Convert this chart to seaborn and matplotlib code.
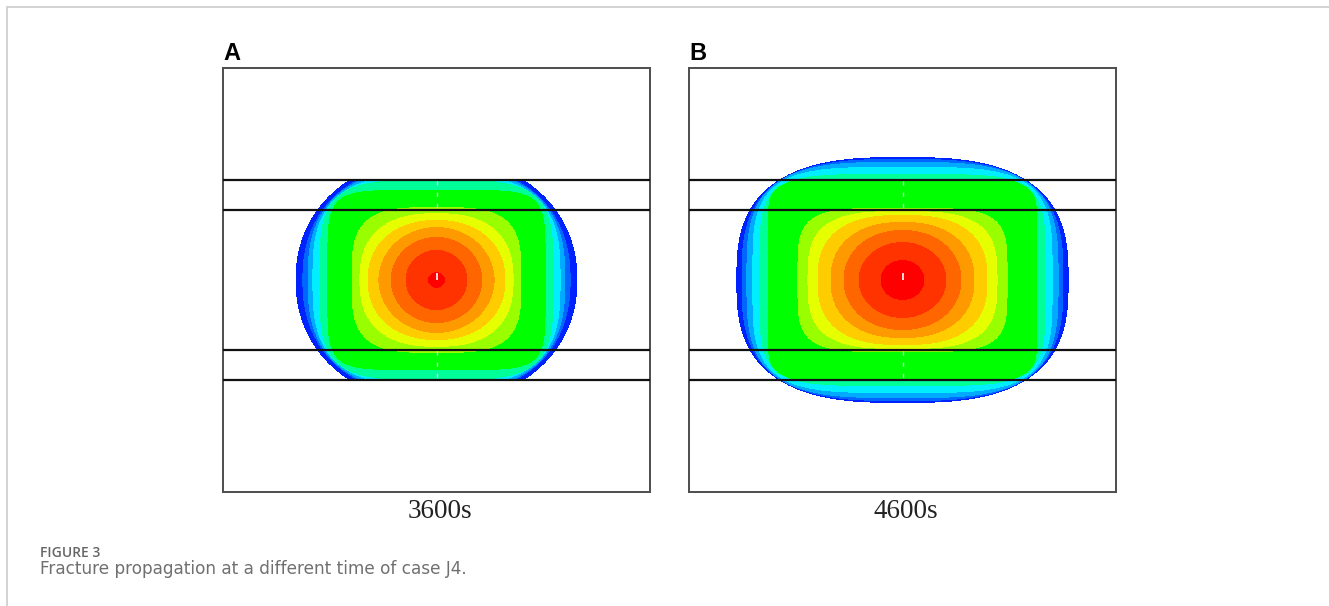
import numpy as np
import pandas as pd
import matplotlib
matplotlib.use("Agg")
import matplotlib.pyplot as plt
from matplotlib.colors import ListedColormap
from matplotlib.lines import Line2D
import seaborn as sns

sns.set_theme(style="white")
plt.rcParams['font.family'] = ['Liberation Sans', 'DejaVu Sans']

# ---------------- data ----------------
domain_w = 200.0          # m
domain_h = 200.0          # m
center_x = 100.0
center_y = 100.0
layer_lines = [53.0, 67.0, 133.0, 147.0]   # interface elevations (m)

panel_labels = ["A", "B"]
time_labels = ["3600s", "4600s"]

# band colours: outside, then outermost (low width) -> innermost (max width)
band_colors = ['#FFFFFF', '#0022FF', '#0066FF', '#00AAFF', '#00EEFF', '#00FF99',
               '#00FF00', '#99FF00', '#E6FF00', '#FFCC00', '#FF9900', '#FF6600',
               '#FF3300', '#FF0000']

# contour boundaries, innermost -> outermost
# half-length (m), half-height (m), shape exponent
a_rx = [4.2, 14.5, 21.5, 27.2, 32.3, 36.1, 39.8, 51.1, 54.8, 58.1, 60.4, 62.8, 66.0]
a_ry = [3.8, 14.2, 20.3, 25.0, 28.3, 31.5, 34.4, 42.5, 47.2, 50.0, 52.8, 55.2, 58.0]
a_n = [1.6, 2.0, 2.0, 2.0, 2.2, 2.5, 3.5, 6.0, 4.0, 3.0, 2.6, 2.3, 2.15]
a_limit = 47.0       # height reached at 3600 s (contained)

b_rx = [10.3, 20.6, 27.6, 33.7, 39.8, 44.5, 49.2, 63.2, 67.0, 70.3, 73.1, 75.4, 77.8]
b_ry = [9.4, 17.9, 23.6, 27.4, 30.7, 32.5, 34.0, 47.6, 50.0, 53.3, 55.7, 57.1, 58.0]
b_n = [2.0, 2.0, 2.1, 2.3, 2.6, 3.2, 4.5, 9.0, 5.0, 4.0, 3.4, 3.0, 2.8]
b_limit = 100.0

panels = [(a_rx, a_ry, a_n, a_limit), (b_rx, b_ry, b_n, b_limit)]

nx, ny = 427, 424

# ---------------- figure ----------------
fig = plt.figure(figsize=(13.29, 6.06), dpi=100)
W, H = 1329.0, 606.0
ax_lefts = [223, 689]
ax_w, ax_top, ax_bot = 427, 68, 492

cmap = ListedColormap(band_colors)
xs = (np.arange(nx) + 0.5) * domain_w / nx
ys = domain_h - (np.arange(ny) + 0.5) * domain_h / ny   # top row first
XX, YY = np.meshgrid(xs, ys)


def row_of(y):
    return (domain_h - y) / domain_h * ny


def col_of(x):
    return x / domain_w * nx


for i, (rx, ry, n, lim) in enumerate(panels):
    ax = fig.add_axes([ax_lefts[i] / W, 1 - ax_bot / H, ax_w / W, (ax_bot - ax_top) / H])
    dx = np.abs(XX - center_x)
    dy = np.abs(YY - center_y)
    count = np.zeros_like(XX, dtype=int)
    for r1, r2, e in zip(rx, ry, n):
        count += ((dx / r1) ** e + (dy / r2) ** e <= 1.0).astype(int)
    count[dy > lim] = 0
    df = pd.DataFrame(count, index=np.round(ys, 2), columns=np.round(xs, 2))
    sns.heatmap(df, ax=ax, cmap=cmap, vmin=-0.5, vmax=len(band_colors) - 0.5,
                cbar=False, xticklabels=False, yticklabels=False, rasterized=True)
    for yl in layer_lines:
        ax.axhline(row_of(yl), color='#111111', lw=1.6, zorder=5)
    # perforation / wellbore marks
    cx = col_of(center_x)
    ax.vlines(cx, row_of(center_y + 3.3), row_of(center_y), color='white', lw=1.2, zorder=6)
    for y0, y1 in [(133.5, 146.5), (53.5, 66.5)]:
        ax.vlines(cx, row_of(y1), row_of(y0), color='white', lw=1.0, alpha=0.7,
                  linestyles=(0, (3, 5)), zorder=6)
    for s in ax.spines.values():
        s.set_visible(True)
        s.set_color('#4d4d4d')
        s.set_linewidth(1.4)
    ax.set_xlabel("")
    ax.set_ylabel("")
    ax.tick_params(left=False, bottom=False)

    # panel letter and time label
    fig.text(ax_lefts[i] / W, 1 - 60 / H, panel_labels[i], fontsize=17, fontweight='bold',
             family=['Liberation Sans', 'DejaVu Sans'], ha='left', va='baseline', color='black')
    fig.text((ax_lefts[i] + 217) / W, 1 - 518 / H, time_labels[i], fontsize=19.5,
             family=['Liberation Serif', 'DejaVu Serif'], ha='center', va='baseline',
             color='#222222')

# caption
fig.text(40 / W, 1 - 557 / H, "FIGURE 3", fontsize=10, fontweight='semibold',
         family=['Open Sans', 'DejaVu Sans'], color='#666666', ha='left', va='baseline')
fig.text(40 / W, 1 - 574 / H, "Fracture propagation at a different time of case J4.",
         fontsize=12.2, family=['DejaVu Sans'], color='#707070',
         ha='left', va='baseline')

# page frame lines
fig.add_artist(Line2D([7 / W, 1.0], [1 - 7 / H, 1 - 7 / H], color='#cccccc', lw=1.2,
                      transform=fig.transFigure))
fig.add_artist(Line2D([7 / W, 7 / W], [0.0, 1 - 7 / H], color='#cccccc', lw=1.2,
                      transform=fig.transFigure))

fig.savefig("out.png", dpi=100)
